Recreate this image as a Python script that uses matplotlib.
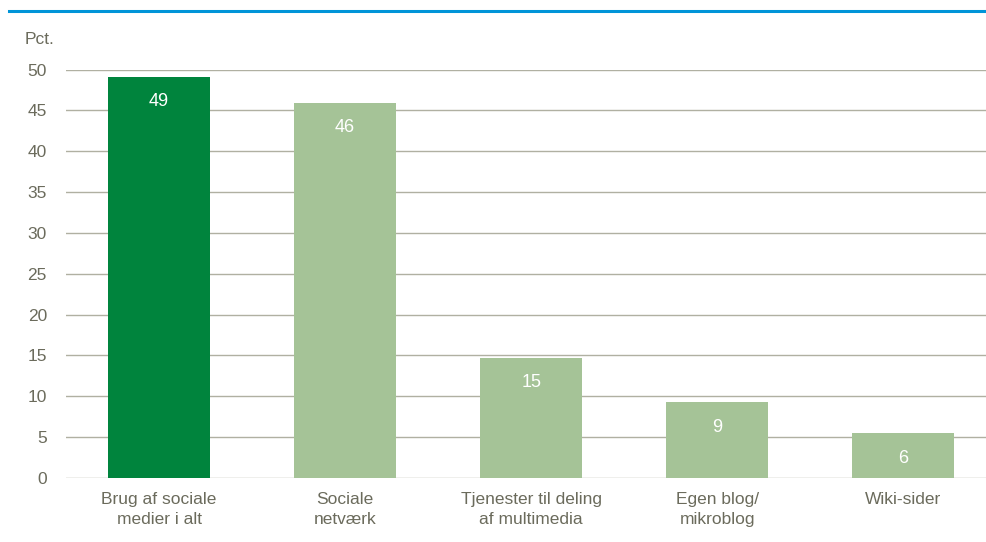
import matplotlib
matplotlib.use("Agg")
import matplotlib.pyplot as plt
from matplotlib.lines import Line2D

categories = ["Brug af sociale\nmedier i alt", "Sociale\nnetværk", "Tjenester til deling\naf multimedia",
              "Egen blog/\nmikroblog", "Wiki-sider"]
values = [49.1, 45.9, 14.7, 9.3, 5.5]
labels = ["49", "46", "15", "9", "6"]
yticks = [0, 5, 10, 15, 20, 25, 30, 35, 40, 45, 50]

plt.rcParams['font.family'] = ['Liberation Sans Narrow', 'Liberation Sans', 'DejaVu Sans']
text_col = "#6b6b5c"
grid_col = "#b0b0a2"
dark_green = "#00843d"
light_green = "#a5c397"

fig = plt.figure(figsize=(9.87, 5.42), dpi=100)
W, H = 987, 542
ax = fig.add_axes([66 / W, (H - 478) / H, (W - 66) / W, (478 - 69.5) / H])

colors = [dark_green] + [light_green] * (len(values) - 1)
x = list(range(len(values)))
bars = ax.bar(x, values, width=0.548, color=colors, zorder=3)

for b, lab in zip(bars, labels):
    ax.annotate(lab, (b.get_x() + b.get_width() / 2, b.get_height()),
                xytext=(0, -18), textcoords="offset points",
                ha="center", va="center", color="white", fontsize=13, zorder=4)

ax.set_xlim(-0.5, 4.45)
ax.set_ylim(0, 50)
ax.set_yticks(yticks)
ax.set_yticklabels([str(t) for t in yticks], fontsize=12.5, color=text_col)
ax.set_xticks(x)
ax.set_xticklabels(categories, fontsize=12.5, color=text_col, linespacing=1.4)
ax.tick_params(axis="both", length=0)
ax.tick_params(axis="y", pad=13.7)
ax.tick_params(axis="x", pad=10)
ax.grid(axis="y", color=grid_col, linewidth=1.0, zorder=0)
ax.set_axisbelow(True)
for s in ax.spines.values():
    s.set_visible(False)

fig.text(25 / W, 1 - 40 / H, "Pct.", fontsize=12.5, color=text_col, ha="left", va="center")
fig.add_artist(Line2D([9 / W, 1.0], [1 - 11 / H, 1 - 11 / H], color="#0094d8", linewidth=2.2,
                      transform=fig.transFigure))

fig.savefig("out.png", dpi=100, facecolor="white")
